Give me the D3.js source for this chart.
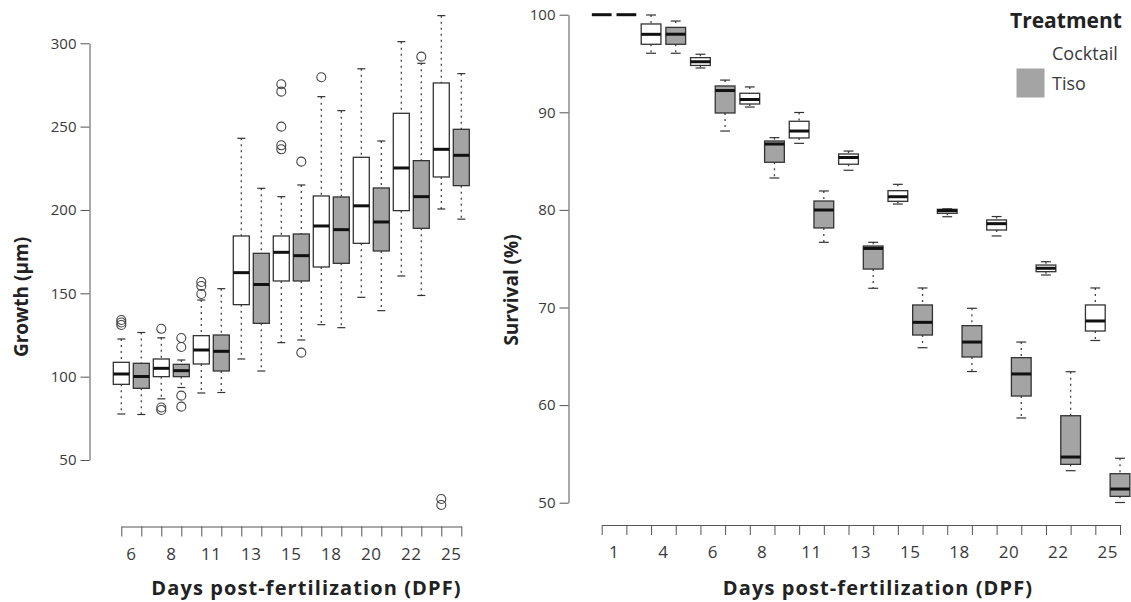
<!DOCTYPE html>
<html>
<head>
<meta charset="utf-8">
<script src="https://cdn.jsdelivr.net/npm/d3@7"></script>
<style>
  body { margin: 0; background: #fff; }
  svg text { font-family: "Open Sans", "Noto Sans", sans-serif; }
</style>
</head>
<body>
<svg id="chart" width="1131" height="602"></svg>
<script>
// ---- data -------------------------------------------------------------
const treatments = ["Cocktail", "Tiso"];

// Growth (µm): [lower whisker, Q1, median, Q3, upper whisker]
const growthDays = [6, 8, 11, 13, 15, 18, 20, 22, 25];
const growthCocktail = [
  [77.6, 95.4, 101.6, 108.6, 122.6],
  [86.7, 100, 105, 110.6, 123.3],
  [90.2, 107.6, 116, 124.6, 146],
  [110.6, 143.2, 162.4, 184.4, 243],
  [120.4, 157.4, 174.6, 184.4, 208],
  [131.2, 165.8, 190.4, 208.4, 268],
  [147.6, 180, 202.5, 231.6, 284.7],
  [160.4, 199.6, 225.2, 258, 301],
  [200.6, 219.8, 236.4, 276.2, 316.6]
];
const growthTiso = [
  [77.3, 93, 100.1, 108, 126.5],
  [93.5, 100, 103.6, 107.4, 110],
  [90.5, 103.4, 115.2, 125, 152.8],
  [103.4, 132, 155.3, 174, 213],
  [122, 157.4, 172.6, 185.6, 215],
  [129.4, 168, 188.2, 207.8, 259.6],
  [139.6, 175.4, 192.8, 213.2, 241.4],
  [148.7, 189, 208, 229.6, 288],
  [194.5, 214.6, 232.8, 248.4, 281.8]
];
const growthCocktailOutliers = [
  [131, 132.5, 134], [128.7, 81.5, 80], [149.6, 154.4, 156.8], [],
  [236.4, 238.8, 250, 271, 275.4], [279.6], [], [], [23, 26.6]
];
const growthTisoOutliers = [
  [], [123.2, 117.8, 88.6, 82], [], [], [229, 114.4], [], [], [292], []
];
const growthTicks = [50, 100, 150, 200, 250, 300];

// Survival (%): [lower whisker, Q1, median, Q3, upper whisker]
const survivalDays = [1, 4, 6, 8, 11, 13, 15, 18, 20, 22, 25];
const survivalCocktail = [
  [100, 100, 100, 100, 100],
  [96.05, 96.97, 97.99, 99.05, 99.97],
  [94.54, 94.8, 95.18, 95.6, 95.95],
  [90.54, 90.85, 91.31, 91.95, 92.6],
  [86.82, 87.37, 88.08, 89.08, 89.98],
  [84.06, 84.68, 85.37, 85.73, 86.03],
  [80.6, 80.88, 81.35, 81.97, 82.62],
  [79.3, 79.65, 79.92, 80.06, 80.11],
  [77.33, 77.94, 78.59, 78.97, 79.32],
  [73.33, 73.67, 74.02, 74.35, 74.69],
  [66.62, 67.59, 68.62, 70.26, 72.0]
];
const survivalTiso = [
  [100, 100, 100, 100, 100],
  [96.05, 96.97, 98.0, 98.7, 99.35],
  [88.08, 89.93, 92.23, 92.7, 93.3],
  [83.27, 84.88, 86.75, 87.06, 87.4],
  [76.68, 78.15, 79.99, 80.91, 81.94],
  [71.97, 73.94, 76.05, 76.3, 76.68],
  [65.88, 67.18, 68.48, 70.26, 72.0],
  [63.44, 64.93, 66.46, 68.14, 69.92],
  [58.68, 60.93, 63.19, 64.86, 66.46],
  [53.28, 53.93, 54.68, 58.91, 63.42],
  [50.02, 50.65, 51.4, 52.97, 54.55]
];
const survivalTicks = [50, 60, 70, 80, 90, 100];

// ---- style ------------------------------------------------------------
const fills = { Cocktail: "#ffffff", Tiso: "#a4a4a4" };
const axisColor = "#555";
const labelColor = "#3a3a3a";

const svg = d3.select("#chart");

function drawPanel(cfg) {
  const keys = cfg.days.flatMap(d => treatments.map(t => d + "|" + t));
  const x = d3.scalePoint().domain(keys).range(cfg.xRange);
  const y = d3.scaleLinear().domain(cfg.yDomain).range(cfg.yRange);
  const boxW = x.step() * 0.8;
  const capW = boxW * 0.5;

  const g = svg.append("g");

  // y axis
  const ya = g.append("g")
    .attr("transform", `translate(${cfg.axisX},0)`)
    .call(d3.axisLeft(y).tickValues(cfg.yTicks).tickSize(9).tickSizeOuter(0).tickPadding(4));
  ya.select(".domain").attr("stroke", axisColor);
  ya.selectAll(".tick line").attr("stroke", axisColor);
  ya.selectAll(".tick text").attr("fill", labelColor)
    .style("font-size", cfg.yFont + "px").style("font-family", '"Open Sans", sans-serif');

  // x axis: one tick per box, labels centred on each day pair
  const xa = g.append("g")
    .attr("transform", `translate(0,${cfg.axisY})`)
    .call(d3.axisBottom(x).tickSize(10).tickSizeOuter(0).tickFormat(""));
  xa.select(".domain").attr("stroke", axisColor);
  xa.selectAll(".tick line").attr("stroke", axisColor);

  g.append("g").selectAll("text")
    .data(cfg.days)
    .join("text")
    .attr("x", d => (x(d + "|Cocktail") + x(d + "|Tiso")) / 2)
    .attr("y", cfg.axisY + 33)
    .attr("text-anchor", "middle")
    .attr("fill", labelColor)
    .style("font-size", cfg.xFont + "px")
    .style("letter-spacing", "0.5px")
    .text(d => d);

  // boxes
  const rows = [];
  cfg.days.forEach((d, i) => {
    treatments.forEach(t => {
      const s = cfg.stats[t][i];
      rows.push({
        key: d + "|" + t, t,
        lw: s[0], q1: s[1], med: s[2], q3: s[3], uw: s[4],
        out: cfg.outliers && cfg.outliers[t] ? cfg.outliers[t][i] : []
      });
    });
  });

  const box = g.append("g").selectAll("g")
    .data(rows)
    .join("g")
    .attr("transform", r => `translate(${x(r.key)},0)`);

  // whiskers (dashed)
  box.append("line")
    .attr("y1", r => y(r.uw)).attr("y2", r => y(r.q3))
    .attr("stroke", "#444").attr("stroke-width", 1.3).attr("stroke-dasharray", "2,4");
  box.append("line")
    .attr("y1", r => y(r.q1)).attr("y2", r => y(r.lw))
    .attr("stroke", "#444").attr("stroke-width", 1.3).attr("stroke-dasharray", "2,4");
  // whisker caps
  ["uw", "lw"].forEach(k => {
    box.append("line")
      .attr("x1", -capW / 2).attr("x2", capW / 2)
      .attr("y1", r => y(r[k])).attr("y2", r => y(r[k]))
      .attr("stroke", "#333").attr("stroke-width", 1.2);
  });
  // box body
  box.append("rect")
    .attr("x", -boxW / 2).attr("width", boxW)
    .attr("y", r => y(r.q3))
    .attr("height", r => Math.max(0, y(r.q1) - y(r.q3)))
    .attr("fill", r => fills[r.t])
    .attr("stroke", "#333").attr("stroke-width", 1.3);
  // median
  box.append("line")
    .attr("x1", -boxW / 2).attr("x2", boxW / 2)
    .attr("y1", r => y(r.med)).attr("y2", r => y(r.med))
    .attr("stroke", "#111").attr("stroke-width", 3);
  // outliers
  box.selectAll("circle")
    .data(r => r.out)
    .join("circle")
    .attr("cx", 0).attr("cy", v => y(v)).attr("r", 4.5)
    .attr("fill", "none").attr("stroke", "#444").attr("stroke-width", 1.1);

  // titles
  g.append("text")
    .attr("x", cfg.xTitleX).attr("y", 595)
    .attr("text-anchor", "middle")
    .attr("fill", "#222")
    .style("font-size", "20px").style("font-weight", "700")
    .style("letter-spacing", "1.1px")
    .text("Days post-fertilization (DPF)");
  g.append("text")
    .attr("transform", `translate(${cfg.yTitleX},${cfg.yTitleY}) rotate(-90)`)
    .attr("text-anchor", "middle")
    .attr("fill", "#222")
    .style("font-size", "19px").style("font-weight", "700")
    .text(cfg.yTitle);
}

drawPanel({
  days: growthDays,
  stats: { Cocktail: growthCocktail, Tiso: growthTiso },
  outliers: { Cocktail: growthCocktailOutliers, Tiso: growthTisoOutliers },
  xRange: [121.3, 461.3],
  yDomain: [50, 300], yRange: [460, 43.3],
  yTicks: growthTicks,
  axisX: 89.5, axisY: 526.5,
  yFont: 15, xFont: 17,
  xTitleX: 306.5,
  yTitle: "Growth (µm)", yTitleX: 28, yTitleY: 297
});

drawPanel({
  days: survivalDays,
  stats: { Cocktail: survivalCocktail, Tiso: survivalTiso },
  xRange: [601.7, 1120],
  yDomain: [50, 100], yRange: [502.7, 14.7],
  yTicks: survivalTicks,
  axisX: 568.5, axisY: 525,
  yFont: 15, xFont: 17,
  xTitleX: 878,
  yTitle: "Survival (%)", yTitleX: 518, yTitleY: 290
});

// legend
const legend = svg.append("g");
legend.append("text")
  .attr("x", 1010).attr("y", 28)
  .attr("fill", "#222")
  .style("font-size", "21px").style("font-weight", "700")
  .text("Treatment");
legend.selectAll("rect")
  .data(treatments)
  .join("rect")
  .attr("x", 1016.5).attr("y", (d, i) => 39 + i * 29.5)
  .attr("width", 28).attr("height", 29)
  .attr("fill", d => fills[d]);
legend.selectAll("text.item")
  .data(treatments)
  .join("text")
  .attr("class", "item")
  .attr("x", 1052).attr("y", (d, i) => 60 + i * 30)
  .attr("fill", labelColor)
  .style("font-size", "18px")
  .text(d => d);
</script>
</body>
</html>
